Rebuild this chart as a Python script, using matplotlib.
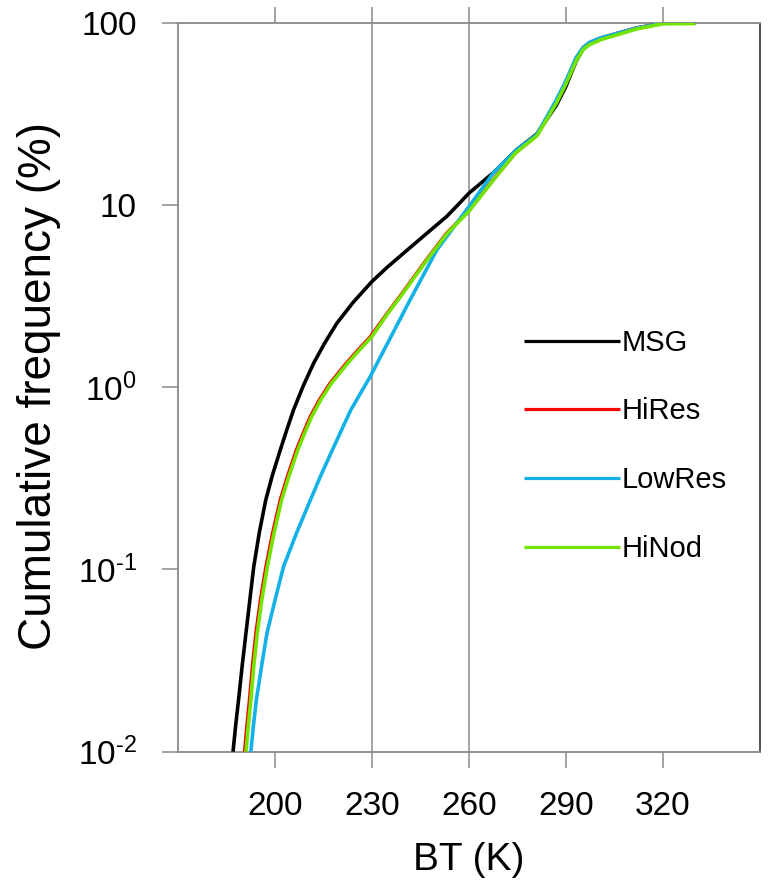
import numpy as np
import matplotlib
matplotlib.use("Agg")
import matplotlib.pyplot as plt
from matplotlib.ticker import FixedLocator, NullLocator, FixedFormatter

plt.rcParams['font.family'] = ['Liberation Sans', 'DejaVu Sans']
plt.rcParams['mathtext.fontset'] = 'custom'
plt.rcParams['mathtext.rm'] = 'Liberation Sans'
plt.rcParams['mathtext.it'] = 'Liberation Sans:italic'
plt.rcParams['mathtext.bf'] = 'Liberation Sans:bold'

# Cumulative frequency (%) of brightness temperature (K)
msg_bt = [187.1, 187.9, 188.8, 189.9, 191.1, 192.3, 193.5, 195.2, 197.2, 199.3,
          201.7, 203.7, 205.8, 208.7, 212.0, 215.4, 219.2, 224.2, 230.0, 234.7,
          239.8, 246.4, 253.1, 256.6, 260.0, 267.9, 274.7, 281.0, 287.0, 290.0,
          293.2, 295.3, 297.3, 300.9, 304.5, 311.7, 320.0, 330.0]
msg_cf = [0.01, 0.01387, 0.0192, 0.0293, 0.0448, 0.0681, 0.1035, 0.1585, 0.240, 0.330,
          0.452, 0.582, 0.750, 1.007, 1.352, 1.742, 2.244, 2.917, 3.793, 4.54,
          5.433, 6.84, 8.63, 10.0, 11.59, 15.2, 20.04, 24.5, 35.1, 44.7,
          61.7, 71.6, 77.1, 82.0, 85.6, 93.1, 99.3, 99.8]

hires_bt = [190.7, 191.4, 192.2, 193.1, 194.2, 195.6, 197.3, 199.35, 201.7, 204.1,
            206.7, 208.8, 211.0, 213.8, 217.1, 222.1, 225.8, 229.6, 234.4, 239.4,
            246.1, 253.1, 259.7, 267.5, 274.2, 281.0, 287.0, 290.0, 293.2, 295.3,
            297.3, 300.9, 304.5, 311.7, 320.0, 330.0]
hires_cf = [0.01, 0.01387, 0.0192, 0.0293, 0.0448, 0.0681, 0.1035, 0.158, 0.240, 0.330,
            0.452, 0.558, 0.689, 0.851, 1.050, 1.352, 1.600, 1.892, 2.489, 3.273,
            4.786, 6.98, 9.18, 13.71, 19.19, 24.1, 36.9, 47.4, 63.8, 72.8,
            77.6, 82.5, 86.0, 93.4, 99.4, 99.8]

lowres_bt = [192.6, 193.4, 194.3, 195.9, 197.6, 200.1, 202.7, 206.7, 211.0, 214.3,
             217.8, 223.5, 229.5, 235.65, 241.8, 250.1, 260.0, 267.5, 274.7, 281.0,
             287.0, 290.0, 293.2, 295.3, 297.3, 300.9, 304.5, 311.7, 320.0, 330.0]
lowres_cf = [0.01, 0.01387, 0.0192, 0.0293, 0.0448, 0.0681, 0.1035, 0.158, 0.240, 0.330,
             0.452, 0.750, 1.143, 1.854, 3.006, 5.66, 9.77, 14.93, 20.04, 24.3,
             37.6, 47.9, 64.6, 73.0, 78.0, 82.8, 86.1, 93.3, 99.5, 99.8]

hinod_bt = [191.1, 191.8, 192.6, 193.5, 194.6, 196.0, 197.7, 199.75, 202.1, 204.5,
            207.1, 209.2, 211.4, 214.2, 217.5, 222.5, 226.2, 230.0, 234.6, 239.6,
            246.3, 253.3, 259.9, 267.6, 274.3, 281.1, 287.1, 290.1, 293.3, 295.4,
            297.4, 301.0, 304.6, 311.8, 320.0, 330.0]
hinod_cf = [0.01, 0.01387, 0.0192, 0.0293, 0.0448, 0.0681, 0.1035, 0.158, 0.240, 0.330,
            0.452, 0.558, 0.689, 0.851, 1.050, 1.352, 1.600, 1.892, 2.489, 3.273,
            4.786, 6.98, 9.18, 13.71, 19.19, 24.0, 36.3, 46.5, 62.4, 71.5,
            75.9, 80.9, 84.5, 92.3, 98.6, 98.9]

series_names = ['MSG', 'HiRes', 'LowRes', 'HiNod']
series_colors = ['#000000', '#ff0000', '#13b1e6', '#72e400']
series_bt = [msg_bt, hires_bt, lowres_bt, hinod_bt]
series_cf = [msg_cf, hires_cf, lowres_cf, hinod_cf]

x_ticks = [200, 230, 260, 290, 320]
ref_lines = [230, 260]
y_ticks = [0.01, 0.1, 1, 10, 100]
y_tick_labels = [r'$\mathregular{10^{\text{-}2}}$', r'$\mathregular{10^{\text{-}1}}$',
                 r'$\mathregular{10^{0}}$', '10', '100']

fig = plt.figure(figsize=(7.68, 8.86), dpi=100)
ax = fig.add_axes([0.2314, 0.1516, 0.7582, 0.8228])

grey = '#8a8a8a'
for xv in ref_lines:
    ax.axvline(xv, color=grey, lw=1.1, zorder=1)

for i, (bt, cf, c) in enumerate(zip(series_bt, series_cf, series_colors)):
    ax.plot(bt, cf, color=c, lw=2.6, solid_capstyle='butt',
            solid_joinstyle='round', zorder=3 + i)

ax.set_yscale('log')
ax.set_xlim(170, 350)
ax.set_ylim(0.01, 100)

ax.xaxis.set_major_locator(FixedLocator(x_ticks))
ax.xaxis.set_minor_locator(NullLocator())
ax.yaxis.set_major_locator(FixedLocator(y_ticks))
ax.yaxis.set_major_formatter(FixedFormatter(y_tick_labels))
ax.yaxis.set_minor_locator(NullLocator())

ax.tick_params(axis='x', which='major', direction='out', length=11.5, width=1.1,
               color=grey, top=True, bottom=True, labeltop=False,
               labelsize=24, pad=17)
ax.tick_params(axis='y', which='major', direction='out', length=11.5, width=1.1,
               color=grey, left=True, right=False, labelsize=24, pad=18)

for side in ['left', 'top', 'bottom']:
    ax.spines[side].set_color(grey)
    ax.spines[side].set_linewidth(1.3)
ax.spines['right'].set_color('#222222')
ax.spines['right'].set_linewidth(1.1)

fig.text(468.5 / 768, 1 - 860 / 886, 'BT (K)', fontsize=28,
         ha='center', va='center')
fig.text(39 / 768, 1 - 386 / 886, 'Cumulative frequency (%)', fontsize=33,
         rotation=90, ha='center', va='center')

# legend drawn inside the axes
row_y = [0.5634, 0.4701, 0.3755, 0.2808]
for name, c, ry in zip(series_names, series_colors, row_y):
    ax.plot([0.5947, 0.7596], [ry, ry], transform=ax.transAxes, color=c,
            lw=2.3, solid_capstyle='butt', zorder=10)
    ax.text(0.763, ry - 0.0144, name, transform=ax.transAxes, fontsize=21,
            ha='left', va='baseline', zorder=10)

fig.savefig('out.png', dpi=100)
